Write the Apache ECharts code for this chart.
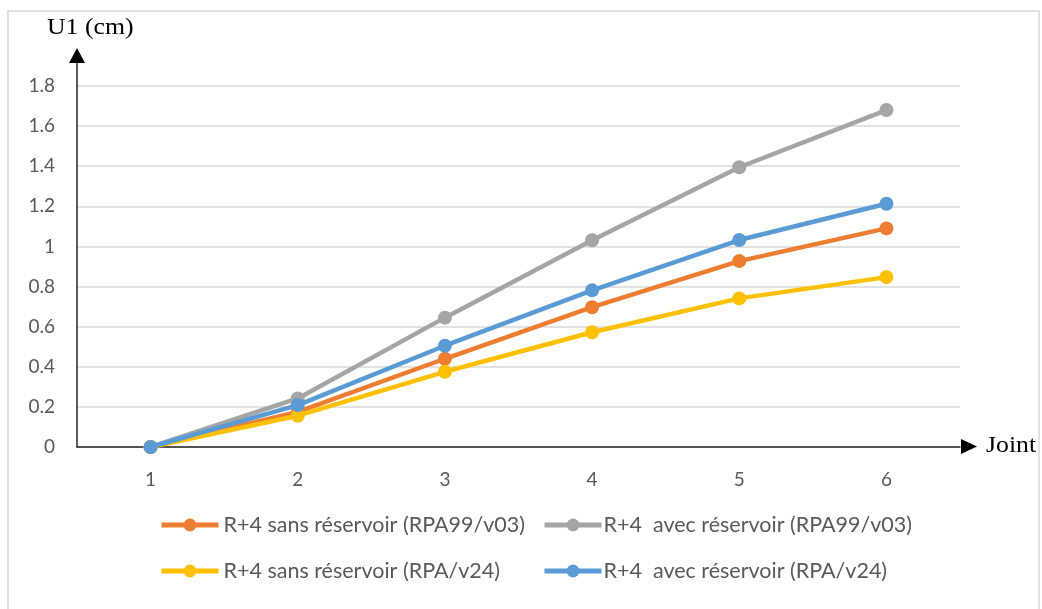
<!DOCTYPE html>
<html>
<head>
<meta charset="utf-8">
<style>
  html, body { margin: 0; padding: 0; background: #ffffff; }
  #chart { width: 1042px; height: 609px; }
</style>
<script src="https://cdn.jsdelivr.net/npm/echarts@6/dist/echarts.min.js"></script>
</head>
<body>
<div id="chart"></div>
<script>
// Joint numbers along the horizontal axis
const joints = ['1', '2', '3', '4', '5', '6'];

// Displacement U1 (cm) per joint for each model
const sansRPA99 = [0, 0.175, 0.44, 0.697, 0.927, 1.09];
const avecRPA99 = [0, 0.242, 0.645, 1.031, 1.395, 1.68];
const sansRPA24 = [0, 0.156, 0.375, 0.572, 0.741, 0.847];
const avecRPA24 = [0, 0.209, 0.505, 0.781, 1.032, 1.213];

// Series names as shown in the legend
const names = [
  'R+4 sans réservoir (RPA99/v03)',
  'R+4  avec réservoir (RPA99/v03)',
  'R+4 sans réservoir (RPA/v24)',
  'R+4  avec réservoir (RPA/v24)'
];
const colors = ['#ED7D31', '#A5A5A5', '#FFC000', '#5B9BD5'];
const values = [sansRPA99, avecRPA99, sansRPA24, avecRPA24];

// Vertical axis range
const yMin = 0, yMax = 1.8, yStep = 0.2;

const chart = echarts.init(document.getElementById('chart'), null, { renderer: 'canvas' });

const labelFont = 'Lato, "Open Sans", sans-serif';
const serif = '"Liberation Serif", "DejaVu Serif", serif';

const series = names.map((n, i) => ({
  name: n,
  type: 'line',
  data: values[i],
  symbol: 'circle',
  symbolSize: 14,
  lineStyle: { width: 4.5, color: colors[i] },
  itemStyle: { color: colors[i] },
  z: 2 + i,
  animation: false
}));

// One legend block per series, laid out in two rows
const legendPos = [
  { left: 154, top: 509, pad: 0 },
  { left: 537, top: 509, pad: -3 },
  { left: 154, top: 555, pad: 0 },
  { left: 537, top: 555, pad: -3 }
];
const legends = names.map((n, i) => ({
  data: [n],
  left: legendPos[i].left,
  top: legendPos[i].top,
  itemWidth: 57,
  itemHeight: 16,
  selectedMode: false,
  lineStyle: { width: 5 },
  textStyle: { fontFamily: labelFont, fontSize: 21.5, color: '#595959', padding: [0, 0, 0, legendPos[i].pad] }
}));

chart.setOption({
  backgroundColor: '#ffffff',
  animation: false,
  color: colors,
  grid: { left: 77, right: 82, top: 86, bottom: 162, containLabel: false },
  xAxis: {
    type: 'category',
    data: joints,
    boundaryGap: true,
    axisLine: { show: true, lineStyle: { color: '#262626', width: 1.5 } },
    axisTick: { show: false },
    axisLabel: { color: '#595959', fontFamily: labelFont, fontSize: 19, margin: 23 },
    splitLine: { show: false }
  },
  yAxis: {
    type: 'value',
    min: yMin,
    max: yMax,
    interval: yStep,
    axisLine: { show: true, lineStyle: { color: '#262626', width: 1.5 } },
    axisTick: { show: false },
    axisLabel: { color: '#595959', fontFamily: labelFont, fontSize: 19, margin: 22 },
    splitLine: { show: true, lineStyle: { color: '#d9d9d9', width: 1.5 } }
  },
  legend: legends,
  series: series,
  graphic: [
    // outer frame
    { type: 'rect', shape: { x: 8, y: 11, width: 1031, height: 620 },
      style: { fill: null, stroke: '#d9d9d9', lineWidth: 1.5 }, silent: true },
    // vertical axis extension and arrow head
    { type: 'line', shape: { x1: 77, y1: 86, x2: 77, y2: 62 },
      style: { stroke: '#262626', lineWidth: 1.5 }, z: 10 },
    { type: 'polygon', shape: { points: [[69, 63], [85, 63], [77, 48]] },
      style: { fill: '#000000' }, z: 10 },
    // horizontal axis arrow head
    { type: 'polygon', shape: { points: [[961, 439], [961, 454], [977, 446.5]] },
      style: { fill: '#000000' }, z: 10 },
    // axis titles
    { type: 'text', x: 47, y: 16, scaleX: 1.12,
      style: { text: 'U1 (cm)', font: '23px ' + serif, fill: '#000000' } },
    { type: 'text', x: 986, y: 434, scaleX: 1.12,
      style: { text: 'Joint', font: '23px ' + serif, fill: '#000000' } }
  ]
});
</script>
</body>
</html>
